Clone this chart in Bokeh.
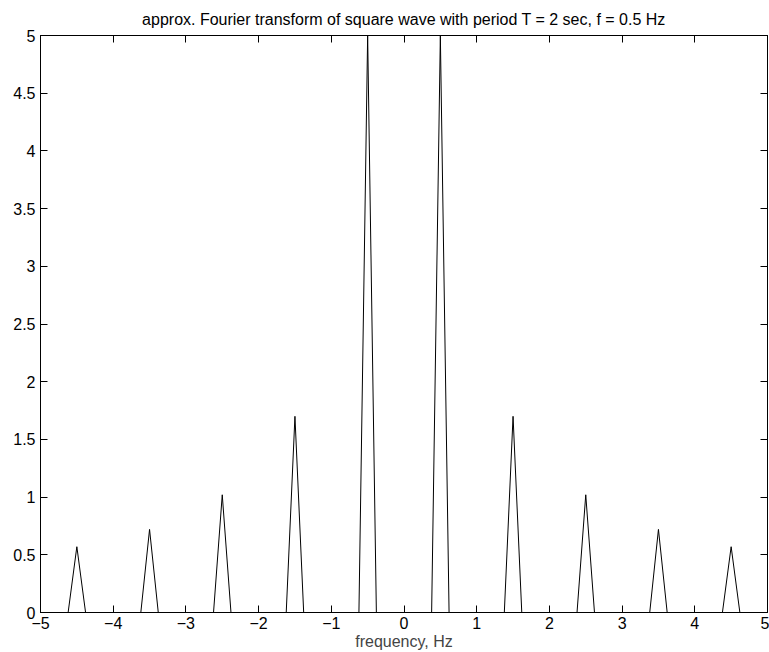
from bokeh.plotting import figure
from bokeh.models import LinearAxis, FixedTicker, Range1d
from bokeh.embed import file_html
from bokeh.resources import INLINE

# data (approximate FFT magnitude)
freq = [-5.0, -4.62, -4.5, -4.38, -3.62, -3.5, -3.38, -2.62, -2.5, -2.38,
        -1.62, -1.5, -1.38, -0.62, -0.5, -0.38, 0.38, 0.5, 0.62, 1.38,
        1.5, 1.62, 2.38, 2.5, 2.62, 3.38, 3.5, 3.62, 4.38, 4.5, 4.62, 5.0]
magnitude = [0, 0, 0.57, 0, 0, 0.72, 0, 0, 1.02, 0,
             0, 1.70, 0, 0, 5.0, 0, 0, 5.0, 0, 0,
             1.70, 0, 0, 1.02, 0, 0, 0.72, 0, 0, 0.57, 0, 0]

x_ticks = [-5, -4, -3, -2, -1, 0, 1, 2, 3, 4, 5]
x_tick_labels = ["\u22125", "\u22124", "\u22123", "\u22122", "\u22121", "0", "1", "2", "3", "4", "5"]
y_ticks = [0, 0.5, 1, 1.5, 2, 2.5, 3, 3.5, 4, 4.5, 5]
y_tick_labels = ["0", "0.5", "1", "1.5", "2", "2.5", "3", "3.5", "4", "4.5", "5"]

title_text = "approx. Fourier transform of square wave with period T = 2 sec, f = 0.5 Hz"
x_label = "frequency, Hz"

FONT = "Liberation Sans"
FS = "16px"

p = figure(width=769, height=652, output_backend="svg", toolbar_location=None,
           x_range=Range1d(-5, 5), y_range=Range1d(0, 5),
           x_axis_location=None, y_axis_location=None,
           min_border_left=40, min_border_right=2, min_border_top=10, min_border_bottom=6)

p.line(freq, magnitude, line_color="black", line_width=1)

def style(ax, show):
    ax.major_tick_in = 7
    ax.major_tick_out = 0
    ax.minor_tick_line_color = None
    ax.axis_line_color = "black"
    ax.major_tick_line_color = "black"
    ax.major_label_text_font = FONT
    ax.major_label_text_font_size = FS if show else "0px"
    ax.major_label_text_color = "black"
    ax.major_label_standoff = 5 if show else 0

bottom = LinearAxis(ticker=FixedTicker(ticks=x_ticks))
bottom.major_label_overrides = {t: l for t, l in zip(x_ticks, x_tick_labels)}
style(bottom, True)
bottom.major_label_standoff = 4
bottom.axis_label = x_label
bottom.axis_label_text_font = FONT
bottom.axis_label_text_font_size = FS
bottom.axis_label_text_font_style = "normal"
bottom.axis_label_standoff = 1
p.add_layout(bottom, "below")

left = LinearAxis(ticker=FixedTicker(ticks=y_ticks))
left.major_label_overrides = {t: l for t, l in zip(y_ticks, y_tick_labels)}
style(left, True)
p.add_layout(left, "left")

top = LinearAxis(ticker=FixedTicker(ticks=x_ticks))
top.major_label_overrides = {t: "" for t in x_ticks}
style(top, False)
p.add_layout(top, "above")

right = LinearAxis(ticker=FixedTicker(ticks=y_ticks))
right.major_label_overrides = {t: "" for t in y_ticks}
style(right, False)
p.add_layout(right, "right")

p.title.text = title_text
p.title.align = "center"
p.title.text_font = FONT
p.title.text_font_size = FS
p.title.text_font_style = "normal"
p.title.text_color = "black"
p.title.standoff = 16

p.xgrid.visible = False
p.ygrid.visible = False
p.outline_line_color = "black"
p.background_fill_color = "white"
p.border_fill_color = "white"

open("out.html", "w").write(file_html(p, INLINE))
